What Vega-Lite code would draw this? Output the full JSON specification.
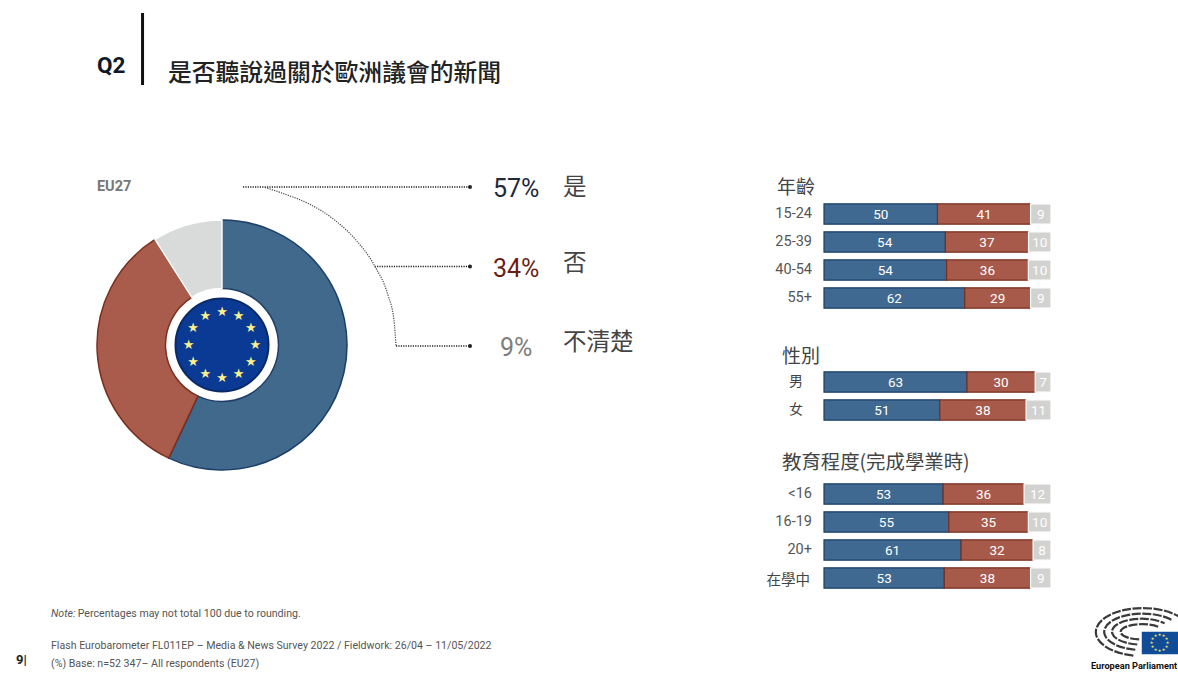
{
"$schema":"https://vega.github.io/schema/vega-lite/v6.json",
"width":1178,"height":673,"padding":0,"autosize":"none","background":"white",
"config":{"view":{"stroke":null},"axis":{"disable":true},"legend":{"disable":true},"text":{"font":"Roboto, Noto Sans CJK TC"}},
"resolve":{"scale":{"x":"independent","y":"independent","theta":"independent","color":"independent","stroke":"independent"}},
"layer":[
{"resolve":{"scale":{"theta":"independent"}},"layer":[
 {"data":{"values":[{"answer":"是","pct":57,"o":1},{"answer":"否","pct":34,"o":2},{"answer":"不清楚","pct":9,"o":3}]},
  "mark":{"type":"arc","outerRadius":125,"innerRadius":56.5,"strokeWidth":1.5},
  "encoding":{
   "x":{"datum":0.5,"type":"quantitative","scale":{"domain":[0,1],"range":[97,347]}},
   "y":{"datum":0.5,"type":"quantitative","scale":{"domain":[0,1],"range":[220,470]}},
   "theta":{"field":"pct","type":"quantitative","stack":true},
   "order":{"field":"o"},
   "color":{"field":"answer","type":"nominal","scale":{"domain":["是","否","不清楚"],"range":["#41698c","#a95c4c","#d9dbdb"]}},
   "stroke":{"field":"answer","type":"nominal","scale":{"domain":["是","否","不清楚"],"range":["#1d3f68","#7b2f1e","#ffffff"]}}
  }},
 {"data":{"values":[{"k":"flag"}]},
  "mark":{"type":"point","filled":true,"fill":"#0a3a94","stroke":"#0a2a66","strokeWidth":2,"opacity":1,"size":8650,"shape":"circle"},
  "encoding":{
   "x":{"datum":0.5,"type":"quantitative","scale":{"domain":[0,1],"range":[97,347]}},
   "y":{"datum":0.5,"type":"quantitative","scale":{"domain":[0,1],"range":[220,470]}}
  }},
 {"data":{"values":[{"h":0},{"h":1},{"h":2},{"h":3},{"h":4},{"h":5},{"h":6},{"h":7},{"h":8},{"h":9},{"h":10},{"h":11}]},
  "mark":{"type":"text","text":"★","radius":33.3,"fontSize":13,"font":"DejaVu Sans","color":"#fdf08a","baseline":"middle","align":"center"},
  "encoding":{
   "x":{"datum":0.5,"type":"quantitative","scale":{"domain":[0,1],"range":[97,347]}},
   "y":{"datum":0.5,"type":"quantitative","scale":{"domain":[0,1],"range":[220,470]}},
   "theta":{"field":"h","type":"quantitative","scale":{"domain":[0,12],"range":[0,6.2832]}}
  }}
]},
{"data":{"values":[
 {"answer":"是","pct":"57%","u0":0,"v":0},
 {"answer":"否","pct":"34%","u0":0.58,"v":0.5},
 {"answer":"不清楚","pct":"9%","u0":0.674,"v":1}]},
 "layer":[
 {"mark":{"type":"rule","color":"#222222","strokeWidth":1.5,"strokeDash":[1.2,1.2]},
  "encoding":{
   "x":{"field":"u0","type":"quantitative","scale":{"domain":[0,1],"range":[243,470]}},
   "x2":{"datum":1},
   "y":{"field":"v","type":"quantitative","scale":{"domain":[0,1],"range":[187,346]}}
  }},
 {"mark":{"type":"point","filled":true,"color":"#222222","size":16,"opacity":1},
  "encoding":{
   "x":{"datum":1,"type":"quantitative","scale":{"domain":[0,1],"range":[243,470]}},
   "y":{"field":"v","type":"quantitative","scale":{"domain":[0,1],"range":[187,346]}}
  }},
 {"data":{"values":[{"u":0.097,"v":0.003},{"u":0.185,"v":0.045},{"u":0.295,"v":0.109},{"u":0.405,"v":0.209},{"u":0.493,"v":0.326},{"u":0.581,"v":0.499},{"u":0.639,"v":0.682},{"u":0.665,"v":0.836},{"u":0.674,"v":1}]},
  "mark":{"type":"line","color":"#444444","strokeWidth":1.2,"strokeDash":[1.2,1.2],"interpolate":"monotone"},
  "encoding":{
   "x":{"field":"u","type":"quantitative","scale":{"domain":[0,1],"range":[243,470]}},
   "y":{"field":"v","type":"quantitative","scale":{"domain":[0,1],"range":[187,346]},"sort":null},
   "order":{"field":"u"}
  }},
 {"mark":{"type":"text","fontSize":25,"align":"center","baseline":"middle","dy":2},
  "encoding":{
   "x":{"datum":1.203,"type":"quantitative","scale":{"domain":[0,1],"range":[243,470]}},
   "y":{"field":"v","type":"quantitative","scale":{"domain":[0,1],"range":[187,346]}},
   "text":{"field":"pct"},
   "color":{"field":"answer","type":"nominal","scale":{"domain":["是","否","不清楚"],"range":["#1c2a3a","#6b1f14","#7d7d7d"]}}
  }},
 {"transform":[{"filter":"datum.answer === '是'"}],
  "mark":{"type":"text","fontSize":23.5,"align":"left","baseline":"middle","dy":1,"color":"#444444","font":"Noto Sans CJK TC"},
  "encoding":{
   "x":{"datum":1.41,"type":"quantitative","scale":{"domain":[0,1],"range":[243,470]}},
   "y":{"field":"v","type":"quantitative","scale":{"domain":[0,1],"range":[187,346]}},
   "text":{"field":"answer"}
  }},
 {"transform":[{"filter":"datum.answer !== '是'"}],
  "mark":{"type":"text","fontSize":23.5,"align":"left","baseline":"middle","dy":-3,"color":"#444444","font":"Noto Sans CJK TC"},
  "encoding":{
   "x":{"datum":1.41,"type":"quantitative","scale":{"domain":[0,1],"range":[243,470]}},
   "y":{"field":"v","type":"quantitative","scale":{"domain":[0,1],"range":[187,346]}},
   "text":{"field":"answer"}
  }}
]},
{"layer":[
 {"data":{"values":[
  {"g":"15-24","a":"是","v":50,"o":1},{"g":"15-24","a":"否","v":41,"o":2},{"g":"15-24","a":"不清楚","v":9,"o":3},
  {"g":"25-39","a":"是","v":54,"o":1},{"g":"25-39","a":"否","v":37,"o":2},{"g":"25-39","a":"不清楚","v":10,"o":3},
  {"g":"40-54","a":"是","v":54,"o":1},{"g":"40-54","a":"否","v":36,"o":2},{"g":"40-54","a":"不清楚","v":10,"o":3},
  {"g":"55+","a":"是","v":62,"o":1},{"g":"55+","a":"否","v":29,"o":2},{"g":"55+","a":"不清楚","v":9,"o":3},
  {"g":"男","a":"是","v":63,"o":1},{"g":"男","a":"否","v":30,"o":2},{"g":"男","a":"不清楚","v":7,"o":3},
  {"g":"女","a":"是","v":51,"o":1},{"g":"女","a":"否","v":38,"o":2},{"g":"女","a":"不清楚","v":11,"o":3},
  {"g":"<16","a":"是","v":53,"o":1},{"g":"<16","a":"否","v":36,"o":2},{"g":"<16","a":"不清楚","v":12,"o":3},
  {"g":"16-19","a":"是","v":55,"o":1},{"g":"16-19","a":"否","v":35,"o":2},{"g":"16-19","a":"不清楚","v":10,"o":3},
  {"g":"20+","a":"是","v":61,"o":1},{"g":"20+","a":"否","v":32,"o":2},{"g":"20+","a":"不清楚","v":8,"o":3},
  {"g":"在學中","a":"是","v":53,"o":1},{"g":"在學中","a":"否","v":38,"o":2},{"g":"在學中","a":"不清楚","v":9,"o":3}
 ]},
 "layer":[
  {"mark":{"type":"bar","strokeWidth":1.2},
   "encoding":{
    "y":{"field":"g","type":"nominal","scale":{"domain":["年齡","15-24","25-39","40-54","55+","gap1","性別","男","女","gap2","教育程度(完成學業時)","<16","16-19","20+","在學中"],"range":[172,592],"paddingInner":0.27,"paddingOuter":0.135}},
    "x":{"field":"v","type":"quantitative","stack":"normalize","scale":{"domain":[0,1],"range":[824,1051]}},
    "order":{"field":"o"},
    "color":{"field":"a","type":"nominal","scale":{"domain":["是","否","不清楚"],"range":["#3f6990","#a85a4a","#d2d2d0"]}},
    "stroke":{"field":"a","type":"nominal","scale":{"domain":["是","否","不清楚"],"range":["#1d3f68","#7b2f1e","#ffffff"]}}
   }},
  {"mark":{"type":"text","color":"white","fontSize":13.5,"align":"center","baseline":"middle","dy":0.5},
   "encoding":{
    "y":{"field":"g","type":"nominal","scale":{"domain":["年齡","15-24","25-39","40-54","55+","gap1","性別","男","女","gap2","教育程度(完成學業時)","<16","16-19","20+","在學中"],"range":[172,592],"paddingInner":0.27,"paddingOuter":0.135}},
    "x":{"field":"v","type":"quantitative","stack":"normalize","bandPosition":0.5,"scale":{"domain":[0,1],"range":[824,1051]}},
    "order":{"field":"o"},
    "text":{"field":"v"}
   }}
 ]},
 {"data":{"values":[{"g":"15-24"},{"g":"25-39"},{"g":"40-54"},{"g":"55+"},{"g":"<16"},{"g":"16-19"},{"g":"20+"}]},
  "mark":{"type":"text","color":"#555555","fontSize":14.5,"align":"right","baseline":"middle"},
  "encoding":{
   "y":{"field":"g","type":"nominal","scale":{"domain":["年齡","15-24","25-39","40-54","55+","gap1","性別","男","女","gap2","教育程度(完成學業時)","<16","16-19","20+","在學中"],"range":[172,592],"paddingInner":0.27,"paddingOuter":0.135}},
   "x":{"datum":-0.053,"type":"quantitative","scale":{"domain":[0,1],"range":[824,1051]}},
   "text":{"field":"g"}
  }},
 {"data":{"values":[{"g":"男"},{"g":"女"}]},
  "mark":{"type":"text","color":"#444444","fontSize":14,"align":"right","baseline":"middle","font":"Noto Sans CJK TC"},
  "encoding":{
   "y":{"field":"g","type":"nominal","scale":{"domain":["年齡","15-24","25-39","40-54","55+","gap1","性別","男","女","gap2","教育程度(完成學業時)","<16","16-19","20+","在學中"],"range":[172,592],"paddingInner":0.27,"paddingOuter":0.135}},
   "x":{"datum":-0.093,"type":"quantitative","scale":{"domain":[0,1],"range":[824,1051]}},
   "text":{"field":"g"}
  }},
 {"data":{"values":[{"g":"在學中"}]},
  "mark":{"type":"text","color":"#444444","fontSize":14.5,"align":"right","baseline":"middle","dy":3,"font":"Noto Sans CJK TC"},
  "encoding":{
   "y":{"field":"g","type":"nominal","scale":{"domain":["年齡","15-24","25-39","40-54","55+","gap1","性別","男","女","gap2","教育程度(完成學業時)","<16","16-19","20+","在學中"],"range":[172,592],"paddingInner":0.27,"paddingOuter":0.135}},
   "x":{"datum":-0.062,"type":"quantitative","scale":{"domain":[0,1],"range":[824,1051]}},
   "text":{"field":"g"}
  }},
 {"data":{"values":[{"g":"年齡"}]},
  "mark":{"type":"text","color":"#444444","fontSize":19,"align":"left","baseline":"middle","dy":2,"font":"Noto Sans CJK TC"},
  "encoding":{
   "y":{"field":"g","type":"nominal","scale":{"domain":["年齡","15-24","25-39","40-54","55+","gap1","性別","男","女","gap2","教育程度(完成學業時)","<16","16-19","20+","在學中"],"range":[172,592],"paddingInner":0.27,"paddingOuter":0.135}},
   "x":{"datum":-0.207,"type":"quantitative","scale":{"domain":[0,1],"range":[824,1051]}},
   "text":{"field":"g"}
  }},
 {"data":{"values":[{"g":"性別"}]},
  "mark":{"type":"text","color":"#444444","fontSize":19,"align":"left","baseline":"middle","dy":3,"font":"Noto Sans CJK TC"},
  "encoding":{
   "y":{"field":"g","type":"nominal","scale":{"domain":["年齡","15-24","25-39","40-54","55+","gap1","性別","男","女","gap2","教育程度(完成學業時)","<16","16-19","20+","在學中"],"range":[172,592],"paddingInner":0.27,"paddingOuter":0.135}},
   "x":{"datum":-0.185,"type":"quantitative","scale":{"domain":[0,1],"range":[824,1051]}},
   "text":{"field":"g"}
  }},
 {"data":{"values":[{"g":"教育程度(完成學業時)"}]},
  "mark":{"type":"text","color":"#444444","fontSize":19.4,"align":"left","baseline":"middle","dy":-3,"font":"Noto Sans CJK TC"},
  "encoding":{
   "y":{"field":"g","type":"nominal","scale":{"domain":["年齡","15-24","25-39","40-54","55+","gap1","性別","男","女","gap2","教育程度(完成學業時)","<16","16-19","20+","在學中"],"range":[172,592],"paddingInner":0.27,"paddingOuter":0.135}},
   "x":{"datum":-0.185,"type":"quantitative","scale":{"domain":[0,1],"range":[824,1051]}},
   "text":{"field":"g"}
  }}
]},
{"layer":[
 {"data":{"values":[{"t":"Q2"}]},
  "mark":{"type":"text","fontSize":22.5,"fontWeight":"bold","align":"left","baseline":"middle","color":"#111827"},
  "encoding":{"x":{"datum":8.23,"type":"quantitative","scale":{"domain":[0,100],"range":[0,1178]}},"y":{"datum":9.88,"type":"quantitative","scale":{"domain":[0,100],"range":[0,673]}},"text":{"field":"t"}}},
 {"data":{"values":[{"t":"bar"}]},
  "mark":{"type":"rule","color":"#111111","strokeWidth":3},
  "encoding":{"x":{"datum":12.1,"type":"quantitative","scale":{"domain":[0,100],"range":[0,1178]}},"y":{"datum":1.93,"type":"quantitative","scale":{"domain":[0,100],"range":[0,673]}},"y2":{"datum":12.63}}},
 {"data":{"values":[{"t":"是否聽說過關於歐洲議會的新聞"}]},
  "mark":{"type":"text","fontSize":23.8,"fontWeight":500,"align":"left","baseline":"middle","color":"#222222","font":"Noto Sans CJK TC"},
  "encoding":{"x":{"datum":14.26,"type":"quantitative","scale":{"domain":[0,100],"range":[0,1178]}},"y":{"datum":10.95,"type":"quantitative","scale":{"domain":[0,100],"range":[0,673]}},"text":{"field":"t"}}},
 {"data":{"values":[{"t":"EU27"}]},
  "mark":{"type":"text","fontSize":14.5,"fontWeight":"bold","align":"left","baseline":"middle","color":"#777777"},
  "encoding":{"x":{"datum":8.23,"type":"quantitative","scale":{"domain":[0,100],"range":[0,1178]}},"y":{"datum":27.79,"type":"quantitative","scale":{"domain":[0,100],"range":[0,673]}},"text":{"field":"t"}}},
 {"data":{"values":[{"t":"Note:"}]},
  "mark":{"type":"text","fontSize":10.6,"fontStyle":"italic","align":"left","baseline":"middle","color":"#555555"},
  "encoding":{"x":{"datum":4.33,"type":"quantitative","scale":{"domain":[0,100],"range":[0,1178]}},"y":{"datum":91.23,"type":"quantitative","scale":{"domain":[0,100],"range":[0,673]}},"text":{"field":"t"}}},
 {"data":{"values":[{"t":"Percentages may not total 100 due to rounding."}]},
  "mark":{"type":"text","fontSize":10.6,"align":"left","baseline":"middle","color":"#555555"},
  "encoding":{"x":{"datum":6.6,"type":"quantitative","scale":{"domain":[0,100],"range":[0,1178]}},"y":{"datum":91.23,"type":"quantitative","scale":{"domain":[0,100],"range":[0,673]}},"text":{"field":"t"}}},
 {"data":{"values":[{"t":"Flash Eurobarometer  FL011EP – Media & News Survey 2022  /  Fieldwork: 26/04 – 11/05/2022"}]},
  "mark":{"type":"text","fontSize":10.6,"align":"left","baseline":"middle","color":"#555555"},
  "encoding":{"x":{"datum":4.33,"type":"quantitative","scale":{"domain":[0,100],"range":[0,1178]}},"y":{"datum":96.06,"type":"quantitative","scale":{"domain":[0,100],"range":[0,673]}},"text":{"field":"t"}}},
 {"data":{"values":[{"t":"(%) Base: n=52 347– All respondents (EU27)"}]},
  "mark":{"type":"text","fontSize":10.6,"align":"left","baseline":"middle","color":"#555555"},
  "encoding":{"x":{"datum":4.33,"type":"quantitative","scale":{"domain":[0,100],"range":[0,1178]}},"y":{"datum":98.59,"type":"quantitative","scale":{"domain":[0,100],"range":[0,673]}},"text":{"field":"t"}}},
 {"data":{"values":[{"t":"9|"}]},
  "mark":{"type":"text","fontSize":13,"fontWeight":"bold","align":"left","baseline":"middle","color":"#222222"},
  "encoding":{"x":{"datum":1.36,"type":"quantitative","scale":{"domain":[0,100],"range":[0,1178]}},"y":{"datum":98.07,"type":"quantitative","scale":{"domain":[0,100],"range":[0,673]}},"text":{"field":"t"}}},
 {"data":{"values":[{"t":"hemicycle"}]},
  "mark":{"type":"point","filled":false,"opacity":1,"stroke":"#3a3a3a","strokeWidth":2.2,"strokeDash":[9,1.5],"size":9216,
   "shape":"M-0.2,0.49 A0.98,0.5 0 1 1 0.75,-0.32 M-0.16,0.37 A0.8,0.38 0 1 1 0.6,-0.25 M-0.12,0.26 A0.62,0.27 0 1 1 0.45,-0.18 M-0.08,0.155 A0.45,0.16 0 1 1 0.32,-0.11"},
  "encoding":{"x":{"datum":97.03,"type":"quantitative","scale":{"domain":[0,100],"range":[0,1178]}},"y":{"datum":93.91,"type":"quantitative","scale":{"domain":[0,100],"range":[0,673]}}}},
 {"data":{"values":[{"t":"flag"}]},
  "mark":{"type":"rect","color":"#114c97","stroke":"white","strokeWidth":1.5},
  "encoding":{"x":{"datum":96.86,"type":"quantitative","scale":{"domain":[0,100],"range":[0,1178]}},"x2":{"datum":100.5},"y":{"datum":93.76,"type":"quantitative","scale":{"domain":[0,100],"range":[0,673]}},"y2":{"datum":97.33}}},
 {"data":{"values":[{"h":0},{"h":1},{"h":2},{"h":3},{"h":4},{"h":5},{"h":6},{"h":7},{"h":8},{"h":9},{"h":10},{"h":11}]},
  "mark":{"type":"text","text":"★","radius":8,"fontSize":4,"font":"DejaVu Sans","color":"#fbe96a","baseline":"middle","align":"center"},
  "encoding":{
   "x":{"datum":98.43,"type":"quantitative","scale":{"domain":[0,100],"range":[0,1178]}},
   "y":{"datum":95.54,"type":"quantitative","scale":{"domain":[0,100],"range":[0,673]}},
   "theta":{"field":"h","type":"quantitative","scale":{"domain":[0,12],"range":[0,6.2832]}}
  }},
 {"data":{"values":[{"t":"European Parliament"}]},
  "mark":{"type":"text","fontSize":9.2,"fontWeight":"bold","align":"left","baseline":"middle","color":"#111111"},
  "encoding":{"x":{"datum":92.61,"type":"quantitative","scale":{"domain":[0,100],"range":[0,1178]}},"y":{"datum":98.89,"type":"quantitative","scale":{"domain":[0,100],"range":[0,673]}},"text":{"field":"t"}}}
]}
]
}
